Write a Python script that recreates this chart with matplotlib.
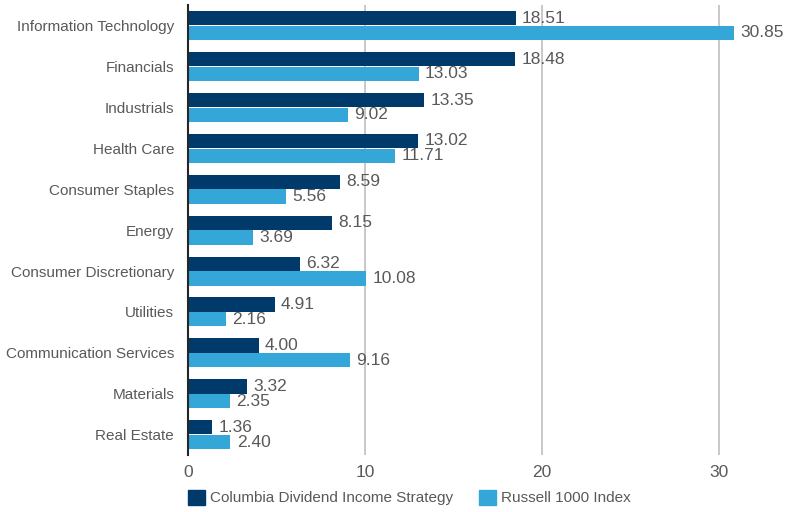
import matplotlib.pyplot as plt
from matplotlib.patches import Rectangle
import numpy as np

sectors = [
    "Information Technology", "Financials", "Industrials", "Health Care",
    "Consumer Staples", "Energy", "Consumer Discretionary", "Utilities",
    "Communication Services", "Materials", "Real Estate",
]
strategy = [18.51, 18.48, 13.35, 13.02, 8.59, 8.15, 6.32, 4.91, 4.00, 3.32, 1.36]
russell = [30.85, 13.03, 9.02, 11.71, 5.56, 3.69, 10.08, 2.16, 9.16, 2.35, 2.40]
series_names = ["Columbia Dividend Income Strategy", "Russell 1000 Index"]
xticks = [0, 10, 20, 30]

DARK = "#003a6b"
LIGHT = "#35a6d8"
TEXT = "#595959"
FS = 11

plt.rcParams["font.family"] = ["Liberation Sans", "DejaVu Sans"]

fig = plt.figure(figsize=(7.88, 5.12), dpi=100)
ax = fig.add_axes([0.2386, 0.111, 0.7614, 0.879])

y = np.arange(len(sectors))
h = 0.36
ax.barh(y - h / 2, strategy, height=h * 0.97, color=DARK, zorder=3)
ax.barh(y + h / 2, russell, height=h * 0.97, color=LIGHT, zorder=3)

for yi, v in zip(y, strategy):
    ax.text(v + 0.35, yi - h / 2, f"{v:.2f}", va="center", ha="left", fontsize=12.5, color=TEXT)
for yi, v in zip(y, russell):
    ax.text(v + 0.35, yi + h / 2, f"{v:.2f}", va="center", ha="left", fontsize=12.5, color=TEXT)

ax.set_ylim(len(sectors) - 0.5, -0.5)
ax.set_xlim(0, 33.9)
ax.set_yticks(y)
ax.set_yticklabels(sectors, fontsize=FS, color=TEXT)
ax.set_xticks(xticks)
ax.set_xticklabels([str(t) for t in xticks], fontsize=12.5, color=TEXT)
ax.tick_params(length=0, pad=10)
ax.tick_params(axis="x", pad=7)
ax.grid(axis="x", color="#bfbfbf", lw=1.2, zorder=0)
for s in ["top", "right", "bottom"]:
    ax.spines[s].set_visible(False)
ax.spines["left"].set_color("#262626")
ax.spines["left"].set_linewidth(1.5)
ax.spines["left"].set_zorder(4)

# legend
W, H = 788, 512
for x0, col, name in [(188, DARK, series_names[0]), (479, LIGHT, series_names[1])]:
    fig.patches.append(Rectangle((x0 / W, 1 - 505 / H), 17 / W, 15 / H,
                                 transform=fig.transFigure, color=col))
    fig.text((x0 + 22) / W, 1 - 498 / H, name, fontsize=FS, color=TEXT, va="center", ha="left")

fig.savefig("out.png", dpi=100, facecolor="white")
